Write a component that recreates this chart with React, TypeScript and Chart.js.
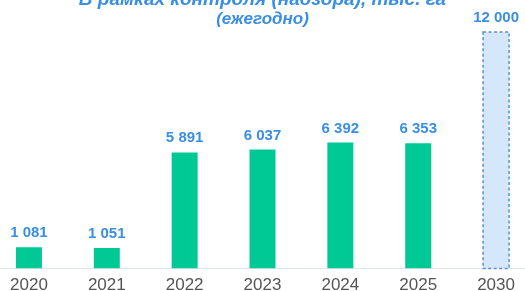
import React, { useEffect, useRef } from "react";
import { Chart, registerables } from "chart.js";

Chart.register(...registerables);

const years = ["2020", "2021", "2022", "2023", "2024", "2025", "2030"];
const values = [1081, 1051, 5891, 6037, 6392, 6353, 12000];
const isTarget = [false, false, false, false, false, false, true];
const titleText = "В рамках контроля (надзора), тыс. га";
const subtitleText = "(ежегодно)";

const GREEN = "#00c995";
const BLUE = "#3a8fe3";
const TARGET_FILL = "#d5e7fa";
const TARGET_BORDER = "#5a90cc";
const FONT = "'Liberation Sans', Arial, sans-serif";

const fmt = (v: number) => String(v).replace(/\B(?=(\d{3})+(?!\d))/g, " ");

const overlayPlugin = {
  id: "overlay",
  afterDatasetsDraw(chart: any) {
    const ctx = chart.ctx;
    const meta = chart.getDatasetMeta(0);
    meta.data.forEach((bar: any, i: number) => {
      const p = bar.getProps(["x", "y", "base", "width"], true);
      if (isTarget[i]) {
        ctx.save();
        ctx.strokeStyle = TARGET_BORDER;
        ctx.lineWidth = 1.5;
        ctx.setLineDash([3, 2.5]);
        ctx.strokeRect(p.x - p.width / 2, p.y, p.width, p.base - p.y);
        ctx.restore();
      }
      ctx.save();
      ctx.fillStyle = BLUE;
      ctx.font = `bold 15px ${FONT}`;
      ctx.textAlign = "center";
      ctx.textBaseline = "alphabetic";
      ctx.fillText(fmt(values[i]), p.x, p.y - 10);
      ctx.restore();
    });
  },
};

export default function App() {
  const ref = useRef<HTMLCanvasElement | null>(null);
  useEffect(() => {
    if (!ref.current) return;
    const chart = new Chart(ref.current, {
      type: "bar",
      data: {
        labels: years,
        datasets: [
          {
            data: values,
            backgroundColor: isTarget.map((t) => (t ? TARGET_FILL : GREEN)),
            borderWidth: 0,
            categoryPercentage: 1,
            barPercentage: 0.334,
          },
        ],
      },
      options: {
        animation: false,
        responsive: false,
        maintainAspectRatio: false,
        layout: { padding: 0 },
        plugins: {
          legend: { display: false },
          tooltip: { enabled: false },
          title: {
            display: true,
            text: titleText,
            color: BLUE,
            font: { family: FONT, size: 19, weight: "bold", style: "italic", lineHeight: 1.0 },
            padding: { top: 10, bottom: 0 },
          },
          subtitle: {
            display: true,
            text: subtitleText,
            color: BLUE,
            font: { family: FONT, size: 17, weight: "bold", style: "italic", lineHeight: 1.2 },
            padding: { top: 0, bottom: 0 },
          },
        },
        scales: {
          x: {
            grid: { display: false, drawTicks: false },
            border: { display: true, color: "#dfe6ee", width: 1 },
            ticks: { color: "#555", font: { family: FONT, size: 17 }, padding: 7 },
          },
          y: {
            display: false,
            min: 0,
            max: 12132,
          },
        },
      },
      plugins: [overlayPlugin],
    });
    return () => chart.destroy();
  }, []);
  return (
    <div style={{ position: "fixed", left: 0, top: 0, width: 525, height: 291, overflow: "hidden", background: "#fff" }}>
      <canvas
        ref={ref}
        width={545}
        height={323}
        style={{ position: "absolute", left: -10, top: -20, width: 545, height: 323 }}
      />
    </div>
  );
}
